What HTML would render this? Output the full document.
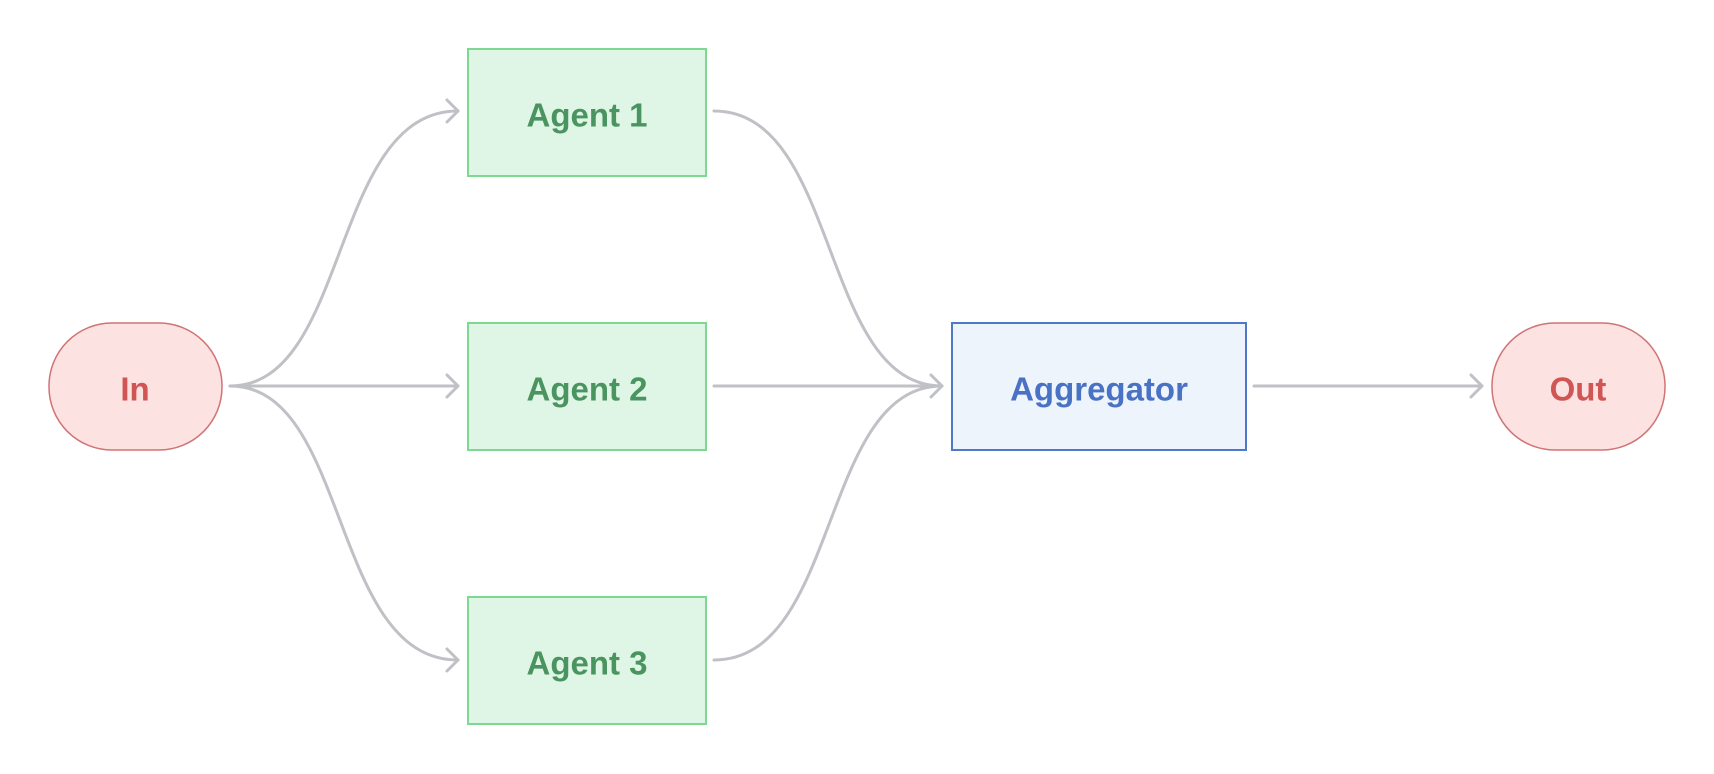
<!DOCTYPE html>
<html><head><meta charset="utf-8"><style>
html,body{margin:0;padding:0;background:#fff;width:1714px;height:774px;overflow:hidden}
text{font-family:"Liberation Sans",sans-serif;font-weight:bold;font-size:33px;text-anchor:middle;dominant-baseline:central}
</style></head><body>
<svg width="1714" height="774" viewBox="0 0 1714 774" xmlns="http://www.w3.org/2000/svg">
<g fill="none" stroke="#c0c1c6" stroke-width="3" stroke-linecap="round" stroke-linejoin="round">
<path d="M230 386 C350 386 330 111 458 111"/>
<path d="M230 386 L458 386"/>
<path d="M230 386 C350 386 330 660 458 660"/>
<path d="M447 100 L458 111 L447 122"/>
<path d="M447 375 L458 386 L447 397"/>
<path d="M447 649 L458 660 L447 671"/>
<path d="M714 111 C840 111 820 386 942 386"/>
<path d="M714 386 L942 386"/>
<path d="M714 660 C840 660 820 386 942 386"/>
<path d="M931 375 L942 386 L931 397"/>
<path d="M1254 386 L1482 386"/>
<path d="M1471 375 L1482 386 L1471 397"/>
</g>
<rect x="49" y="323" width="173" height="127" rx="63" fill="#fde2e2" stroke="#d07474" stroke-width="1.5"/>
<text x="135" y="389" fill="#d05555">In</text>
<rect x="468" y="49" width="238" height="127" fill="#dff5e6" stroke="#7dd98f" stroke-width="2"/>
<text x="587" y="115" fill="#4a9460">Agent 1</text>
<rect x="468" y="323" width="238" height="127" fill="#dff5e6" stroke="#7dd98f" stroke-width="2"/>
<text x="587" y="389" fill="#4a9460">Agent 2</text>
<rect x="468" y="597" width="238" height="127" fill="#dff5e6" stroke="#7dd98f" stroke-width="2"/>
<text x="587" y="663" fill="#4a9460">Agent 3</text>
<rect x="952" y="323" width="294" height="127" fill="#eef4fc" stroke="#4f78c8" stroke-width="2"/>
<text x="1099" y="389" fill="#4a72c4">Aggregator</text>
<rect x="1492" y="323" width="173" height="127" rx="63" fill="#fde2e2" stroke="#d07474" stroke-width="1.5"/>
<text x="1578" y="389" fill="#d05555">Out</text>
</svg>
</body></html>
